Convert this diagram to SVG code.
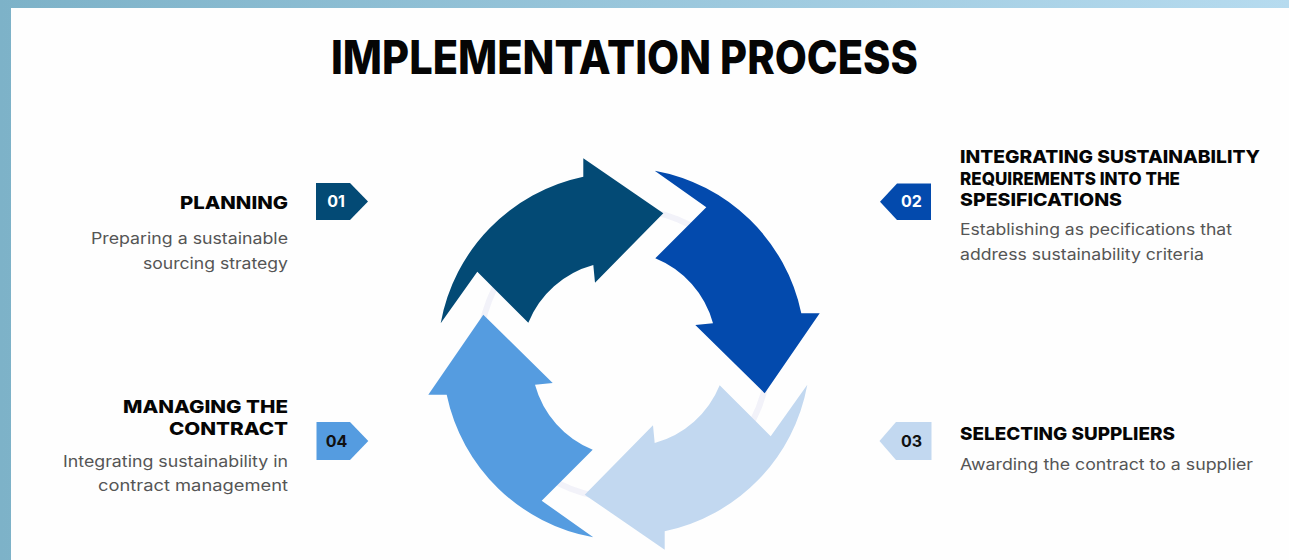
<svg xmlns="http://www.w3.org/2000/svg" width="1289" height="560" viewBox="0 0 1289 560">
<defs>
<linearGradient id="bg" x1="0" y1="0" x2="1" y2="0">
<stop offset="0" stop-color="#7db2c8"/>
<stop offset="1" stop-color="#b6dbef"/>
</linearGradient>
<path id="arrow" d="M 440.7,323.3 A 183 183 0 0 1 583.3,176.7 L 583.3,158.3 L 663.3,213.3 L 595,282.7 L 593.3,265 A 98 98 0 0 0 528.3,322.7 L 477.3,271.7 Z"/>
</defs>
<style>
.title{font-family:Inter,"Liberation Sans",sans-serif;font-weight:800;font-size:46px;fill:#050505}
.head{font-family:Inter,"Liberation Sans",sans-serif;font-weight:800;font-size:18px;fill:#050505}
.desc{font-family:Inter,"Liberation Sans",sans-serif;font-weight:400;font-size:15.5px;fill:#555555}
.num{font-family:Inter,"Liberation Sans",sans-serif;font-weight:700;font-size:16px;text-anchor:middle}
.r{text-anchor:end}
</style>
<rect x="0" y="0" width="1289" height="560" fill="url(#bg)"/>
<rect x="11" y="8" width="1278" height="552" fill="#fefefe"/>
<text class="title" x="331" y="74" textLength="587" lengthAdjust="spacingAndGlyphs">IMPLEMENTATION PROCESS</text>

<g id="cycle">
<circle cx="624" cy="354" r="145" fill="none" stroke="#f2f2f9" stroke-width="6"/>
<g id="arrow-1"><use href="#arrow" fill="#034a75"/></g>
<g id="arrow-2"><use href="#arrow" fill="#034aad" transform="rotate(90 624 354)"/></g>
<g id="arrow-3"><use href="#arrow" fill="#c2d8f0" transform="rotate(180 624 354)"/></g>
<g id="arrow-4"><use href="#arrow" fill="#559ce0" transform="rotate(270 624 354)"/></g>
</g>

<g id="step-01">
<polygon points="316,183 350,183 368,201.5 350,220 316,220" fill="#034a75"/>
<text class="num" x="336" y="207" fill="#ffffff">01</text>
<text class="head r" x="288" y="208.5" textLength="108" lengthAdjust="spacingAndGlyphs">PLANNING</text>
<text class="desc r" x="288" y="243.5" textLength="197" lengthAdjust="spacingAndGlyphs">Preparing a sustainable</text>
<text class="desc r" x="288" y="268.5" textLength="145" lengthAdjust="spacingAndGlyphs">sourcing strategy</text>
</g>

<g id="step-02">
<polygon points="931,183.5 897,183.5 880,201.7 897,220 931,220" fill="#034aad"/>
<text class="num" x="911.5" y="207.3" fill="#ffffff">02</text>
<text class="head" x="960" y="162.7" textLength="300" lengthAdjust="spacingAndGlyphs">INTEGRATING SUSTAINABILITY</text>
<text class="head" x="960" y="184.7" textLength="220" lengthAdjust="spacingAndGlyphs">REQUIREMENTS INTO THE</text>
<text class="head" x="960" y="206" textLength="162" lengthAdjust="spacingAndGlyphs">SPESIFICATIONS</text>
<text class="desc" x="960" y="235" textLength="272" lengthAdjust="spacingAndGlyphs">Establishing as pecifications that</text>
<text class="desc" x="960" y="259.5" textLength="244" lengthAdjust="spacingAndGlyphs">address sustainability criteria</text>
</g>

<g id="step-03">
<polygon points="931.5,422 896,422 879.5,441 896,460 931.5,460" fill="#c2d8f0"/>
<text class="num" x="911.5" y="446.8" fill="#111111">03</text>
<text class="head" x="960" y="439.5" textLength="215" lengthAdjust="spacingAndGlyphs">SELECTING SUPPLIERS</text>
<text class="desc" x="960" y="470" textLength="293" lengthAdjust="spacingAndGlyphs">Awarding the contract to a supplier</text>
</g>

<g id="step-04">
<polygon points="316.5,422 350,422 368.3,441 350,460 316.5,460" fill="#559ce0"/>
<text class="num" x="336.5" y="446.8" fill="#111111">04</text>
<text class="head r" x="288" y="413.3" textLength="165" lengthAdjust="spacingAndGlyphs">MANAGING THE</text>
<text class="head r" x="288" y="434.5" textLength="119" lengthAdjust="spacingAndGlyphs">CONTRACT</text>
<text class="desc r" x="288" y="466.7" textLength="225" lengthAdjust="spacingAndGlyphs">Integrating sustainability in</text>
<text class="desc r" x="288" y="490.5" textLength="190" lengthAdjust="spacingAndGlyphs">contract management</text>
</g>
</svg>
